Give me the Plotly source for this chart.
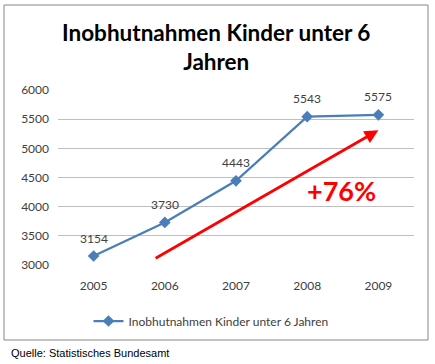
import plotly.graph_objects as go

years = ["2005", "2006", "2007", "2008", "2009"]
values = [3154, 3730, 4443, 5543, 5575]
series_name = "Inobhutnahmen Kinder unter 6 Jahren"
title = "Inobhutnahmen Kinder unter 6<br>Jahren"
arrow_start = (0.85, 3100)
arrow_end = (4, 5310)
growth_label = "+76%"
growth_pos = (3.48, 4270)
source = "Quelle: Statistisches Bundesamt"

W, H = 435, 364
L, R, T, B = 58, 21, 90, 99
pw, ph = W - L - R, H - T - B

def px(x):
    return (x - L) / pw

def py(y):
    return (H - B - y) / ph

fig = go.Figure()
fig.add_trace(go.Scatter(
    x=list(range(len(years))), y=values, name=series_name,
    mode="lines+markers",
    line=dict(color="#4A7EBB", width=2.25),
    marker=dict(symbol="diamond", size=9, color="#4A7EBB"),
))
for i, v in enumerate(values):
    fig.add_annotation(x=i, y=v, xref="x", yref="y", text=str(v), showarrow=False,
                       yshift=18, font=dict(family="Lato", size=12, color="#404040"))

fig.add_annotation(x=arrow_end[0], y=arrow_end[1], ax=arrow_start[0], ay=arrow_start[1],
                   xref="x", yref="y", axref="x", ayref="y", text="",
                   showarrow=True, arrowhead=2, arrowsize=1, arrowwidth=2.75,
                   arrowcolor="#FF0000")
fig.add_annotation(x=growth_pos[0], y=growth_pos[1], xref="x", yref="y", text="<b>" + growth_label + "</b>",
                   showarrow=False, font=dict(family="Lato", size=27, color="#FF0000"))
fig.add_annotation(x=px(9), y=py(353), xref="paper", yref="paper", text=source,
                   showarrow=False, xanchor="left", yanchor="middle",
                   font=dict(family="Liberation Sans", size=11, color="#000000"))
fig.add_annotation(x=px(216), y=py(47), xref="paper", yref="paper", text="<b>" + title + "</b>",
                   showarrow=False, xanchor="center", yanchor="middle",
                   font=dict(family="Lato", size=22.5, color="#000000"))

fig.add_shape(type="rect", xref="paper", yref="paper",
              x0=px(4), x1=px(428), y0=py(340), y1=py(5),
              line=dict(color="#868686", width=1), fillcolor="rgba(0,0,0,0)")

fig.update_layout(
    width=W, height=H, margin=dict(l=L, r=R, t=T, b=B),
    paper_bgcolor="white", plot_bgcolor="white",
    showlegend=True,
    legend=dict(orientation="h", x=px(211), y=py(321), xanchor="center", yanchor="middle",
                font=dict(family="Lato", size=12, color="#404040")),
    xaxis=dict(range=[-0.5, 4.5], tickmode="array", tickvals=list(range(len(years))), ticktext=years,
               showgrid=False, zeroline=False, showline=False, ticks="", ticklabelstandoff=12,
               tickfont=dict(family="Lato", size=12, color="#404040")),
    yaxis=dict(range=[3000, 6000], dtick=500, showgrid=True, gridcolor="#BFBFBF", gridwidth=1,
               zeroline=False, showline=False, ticks="", ticklabelstandoff=8,
               tickfont=dict(family="Lato", size=12, color="#404040")),
)

fig.write_html("out.html", config={"displayModeBar": False},
               post_script="document.body.style.margin='0';document.body.style.overflow='hidden';")
